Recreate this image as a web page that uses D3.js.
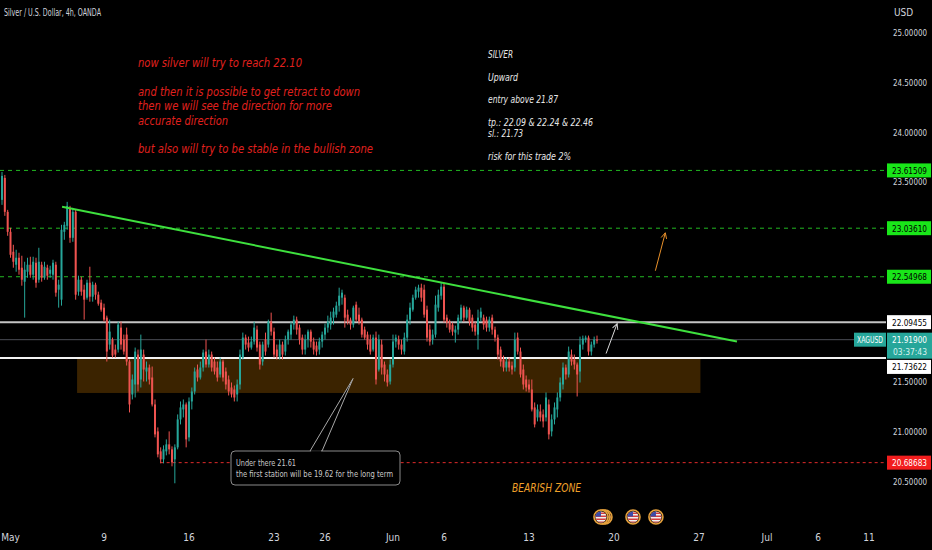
<!DOCTYPE html>
<html>
<head>
<meta charset="utf-8">
<script src="https://cdn.jsdelivr.net/npm/d3@7"></script>
<style>
html, body { margin: 0; padding: 0; background: #000; overflow: hidden; }
svg { display: block; }
text { font-family: "Liberation Sans Narrow", "DejaVu Sans Condensed", Roboto, sans-serif; }
</style>
</head>
<body>
<svg id="chart" width="932" height="550"></svg>
<script>
// 4h candles, [open, high, low, close], one per bar
const candles = [
  [23.32,23.60,23.27,23.56],[23.54,23.57,23.16,23.20],[23.20,23.22,22.96,23.00],[23.00,23.04,22.74,22.77],
  [22.80,22.87,22.64,22.70],[22.67,22.82,22.60,22.74],[22.74,22.79,22.57,22.62],[22.64,22.76,22.46,22.52],
  [22.50,22.70,22.14,22.62],[22.60,22.74,22.54,22.67],[22.67,22.75,22.54,22.57],[22.57,22.75,22.52,22.70],
  [22.69,22.74,22.44,22.49],[22.52,22.84,22.49,22.70],[22.67,22.70,22.50,22.54],[22.54,22.70,22.52,22.65],
  [22.64,22.67,22.52,22.56],[22.58,22.66,22.54,22.62],[22.57,22.72,22.52,22.69],[22.67,22.70,22.35,22.39],
  [22.42,22.52,22.24,22.47],[22.32,23.07,22.26,23.02],[23.00,23.10,22.92,23.07],[23.06,23.30,23.02,23.26],
  [23.24,23.26,22.89,22.94],[22.94,23.24,22.90,23.20],[23.20,23.22,22.32,22.37],[22.40,22.56,22.36,22.52],
  [22.52,22.55,22.36,22.40],[22.42,22.47,22.12,22.32],[22.34,22.52,22.32,22.49],[22.49,22.65,22.30,22.35],
  [22.35,22.50,22.30,22.47],[22.47,22.49,22.32,22.37],[22.37,22.40,22.26,22.28],[22.29,22.32,22.20,22.22],
  [22.24,22.28,22.10,22.12],[22.14,22.16,21.70,21.80],[21.87,22.12,21.82,22.00],[21.92,21.94,21.74,21.76],
  [21.82,21.87,21.74,21.77],[21.82,22.10,21.79,22.07],[22.04,22.10,21.82,21.87],[21.92,21.97,21.77,21.80],
  [21.97,22.04,21.66,21.70],[21.70,21.72,21.19,21.27],[21.37,21.57,21.32,21.52],[21.47,21.84,21.34,21.80],
  [21.77,21.82,21.40,21.47],[21.52,21.97,21.44,21.82],[21.77,21.82,21.50,21.62],[21.60,21.70,21.50,21.64],
  [21.64,21.67,21.47,21.52],[21.54,21.65,21.25,21.27],[21.27,21.32,20.94,20.97],[21.00,21.04,20.74,20.77],
  [20.80,20.84,20.68,20.72],[20.72,20.86,20.68,20.82],[20.80,20.92,20.76,20.87],[20.87,21.00,20.77,20.82],
  [20.82,20.85,20.65,20.69],[20.72,20.87,20.48,20.84],[20.84,21.17,20.82,21.12],[21.12,21.30,21.07,21.24],
  [21.22,21.32,21.14,21.27],[21.27,21.29,20.84,20.92],[20.94,21.34,20.90,21.30],[21.30,21.44,21.22,21.40],
  [21.40,21.64,21.37,21.60],[21.62,21.67,21.50,21.54],[21.54,21.70,21.52,21.64],[21.64,21.82,21.60,21.79],
  [21.80,21.92,21.64,21.67],[21.67,21.82,21.64,21.77],[21.77,21.80,21.60,21.64],[21.70,21.74,21.57,21.60],
  [21.64,21.70,21.50,21.54],[21.57,21.74,21.54,21.70],[21.70,21.72,21.50,21.54],[21.60,21.64,21.42,21.47],
  [21.52,21.56,21.36,21.40],[21.44,21.49,21.34,21.37],[21.42,21.46,21.30,21.34],[21.37,21.52,21.30,21.47],
  [21.47,21.82,21.42,21.77],[21.74,21.99,21.72,21.94],[21.94,21.97,21.82,21.87],[21.89,21.95,21.80,21.84],
  [21.84,21.95,21.82,21.90],[21.90,22.10,21.87,22.04],[22.02,22.06,21.80,21.84],[21.87,21.90,21.62,21.67],
  [21.70,21.90,21.66,21.87],[21.92,21.99,21.76,21.80],[21.87,22.12,21.84,22.10],[22.10,22.19,21.96,22.00],
  [22.00,22.04,21.74,21.77],[21.82,21.87,21.72,21.75],[21.75,21.92,21.72,21.87],[21.87,21.90,21.72,21.77],
  [21.80,21.96,21.76,21.92],[21.92,22.02,21.87,22.00],[21.97,22.10,21.92,22.07],[22.07,22.16,22.02,22.12],
  [22.12,22.15,21.97,22.02],[22.04,22.07,21.87,21.92],[21.94,21.97,21.77,21.82],[21.82,21.97,21.77,21.92],
  [21.92,22.02,21.84,22.00],[22.00,22.02,21.84,21.90],[21.90,21.94,21.77,21.82],[21.86,21.90,21.76,21.80],
  [21.82,21.94,21.77,21.90],[21.90,22.00,21.84,21.97],[21.97,22.08,21.92,22.04],[22.04,22.16,21.99,22.10],
  [22.07,22.20,22.02,22.14],[22.14,22.24,22.07,22.20],[22.17,22.30,22.14,22.26],[22.26,22.44,22.20,22.36],
  [22.34,22.42,22.27,22.39],[22.34,22.37,22.04,22.14],[22.17,22.22,22.07,22.10],[22.12,22.14,22.02,22.07],
  [22.07,22.26,22.04,22.24],[22.27,22.30,22.10,22.12],[22.17,22.24,22.07,22.10],[22.12,22.14,21.94,21.97],
  [22.02,22.05,21.92,21.94],[21.97,22.00,21.82,21.87],[21.92,21.97,21.77,21.80],[21.82,21.97,21.80,21.94],
  [21.94,22.00,21.47,21.52],[21.62,21.97,21.60,21.92],[21.87,21.92,21.57,21.64],[21.67,21.70,21.50,21.57],
  [21.57,21.62,21.45,21.49],[21.50,21.72,21.47,21.67],[21.67,21.97,21.64,21.90],[21.90,21.97,21.84,21.94],
  [21.92,21.96,21.82,21.87],[21.87,21.92,21.77,21.82],[21.80,21.99,21.77,21.94],[21.94,22.17,21.90,22.12],
  [22.12,22.29,22.07,22.24],[22.22,22.37,22.20,22.34],[22.34,22.45,22.32,22.42],[22.40,22.47,22.34,22.44],
  [22.44,22.48,22.30,22.34],[22.42,22.47,22.14,22.17],[22.22,22.26,21.90,21.94],[22.02,22.07,21.86,21.90],
  [21.92,22.02,21.87,21.97],[21.97,22.36,21.94,22.27],[22.24,22.42,22.20,22.37],[22.36,22.49,22.32,22.45],
  [22.45,22.49,22.09,22.12],[22.14,22.17,22.04,22.09],[22.10,22.12,21.99,22.02],[22.07,22.09,21.96,22.00],
  [21.99,22.06,21.89,22.02],[22.02,22.17,21.97,22.14],[22.12,22.27,22.09,22.24],[22.24,22.26,22.10,22.14],
  [22.14,22.25,22.12,22.22],[22.22,22.24,22.06,22.10],[22.14,22.17,22.00,22.04],[22.07,22.10,21.96,22.00],
  [21.97,22.22,21.82,22.14],[22.14,22.24,22.10,22.20],[22.14,22.17,22.02,22.07],[22.12,22.15,22.00,22.04],
  [22.04,22.15,22.00,22.12],[22.14,22.17,21.97,22.02],[22.02,22.05,21.90,21.94],[21.94,21.97,21.72,21.77],
  [21.82,21.85,21.65,21.70],[21.72,21.76,21.60,21.64],[21.64,21.74,21.60,21.70],[21.70,21.74,21.60,21.64],
  [21.66,21.70,21.57,21.62],[21.64,21.99,21.60,21.92],[21.94,21.99,21.77,21.80],[21.80,21.84,21.54,21.57],
  [21.62,21.67,21.42,21.47],[21.52,21.56,21.40,21.44],[21.47,21.52,21.39,21.42],[21.42,21.52,21.20,21.22],
  [21.24,21.29,21.04,21.07],[21.14,21.27,21.10,21.22],[21.20,21.27,21.10,21.14],[21.17,21.22,21.04,21.10],
  [21.14,21.39,21.10,21.34],[21.27,21.32,20.92,20.97],[21.00,21.17,20.95,21.12],[21.12,21.29,21.07,21.24],
  [21.22,21.39,21.14,21.34],[21.34,21.54,21.30,21.49],[21.47,21.69,21.42,21.64],[21.64,21.67,21.52,21.57],
  [21.57,21.85,21.54,21.80],[21.77,21.82,21.66,21.70],[21.72,21.77,21.62,21.67],[21.67,21.69,21.35,21.57],
  [21.60,21.95,21.49,21.87],[21.87,21.96,21.82,21.93],[21.92,21.96,21.89,21.94],[21.94,21.96,21.76,21.80],
  [21.80,21.90,21.76,21.87],[21.87,21.95,21.84,21.92],[21.92,21.96,21.88,21.919]
];

// time axis: bar index where each date label sits
const timeLabels = ["May", "9", "16", "23", "26", "Jun", "6", "13", "20", "27", "Jul", "6", "11"];
const timeBars   = [3, 36, 66, 96, 114, 138, 156, 186, 216, 246, 270, 288, 306];

const priceTicks = [25, 24.5, 24, 23.5, 23, 22.5, 22, 21.5, 21, 20.5];

const targetLevels = [23.61509, 23.03610, 22.54968];
const rangeLevels = [22.09455, 21.73622];
const stopLevel = 20.68683;
const lastPrice = 21.919;
const countdown = "03:37:43";

// demand zone [startBar, endBar, topPrice, bottomPrice]
const zone = [26.5, 246.5, 21.73, 21.385];
// falling trendline [bar, price]
const trendLine = [[21.2, 23.25], [259.4, 21.90]];
// arrows [bar, price] from -> to
const whiteArrow = [[213.2, 21.78], [217.1, 22.08]];
const orangeArrow = [[230.6, 22.61], [234.1, 22.99]];
// callout pointer tip [bar, price]
const calloutTip = [123.9, 21.53];
// economic event markers (bar index)
const eventBars = [211.4, 222.7, 230.8];

const redNote = [
  "now silver will try to reach 22.10",
  "",
  "and then it is possible to get retract to down",
  "then we will see the direction for more",
  "accurate direction",
  "",
  "but also will try to be stable in the bullish zone"
];
const redNoteWidths = [164, 0, 222, 194, 90, 0, 235];

const planNote = ["SILVER", "", "Upward", "", "entry above 21.87", "", "tp.: 22.09 & 22.24 & 22.46", "sl.: 21.73", "", "risk for this trade 2%"];
const planNoteWidths = [25, 0, 30, 0, 70, 0, 105, 35, 0, 83];

const W = 932, H = 550, axisX = 886;
const svg = d3.select("#chart");

const x = d3.scaleLinear().domain([0, 306]).range([2, 869]);
const y = d3.scaleLinear().domain([20.5, 25]).range([481.3, 32.2]);

svg.append("rect").attr("width", W).attr("height", H).attr("fill", "#000");

const defs = svg.append("defs");
function arrowMarker(id, color) {
  defs.append("marker").attr("id", id).attr("viewBox", "0 0 10 10")
    .attr("refX", 9).attr("refY", 5).attr("markerWidth", 7).attr("markerHeight", 7)
    .attr("orient", "auto")
    .append("path").attr("d", "M1,1 L9,5 L1,9").attr("fill", "none")
    .attr("stroke", color).attr("stroke-width", 1.3);
}
arrowMarker("arrW", "#d8d8d8");
arrowMarker("arrO", "#e8902a");

const plot = svg.append("g");

// zone
plot.append("rect")
  .attr("x", x(zone[0])).attr("width", x(zone[1]) - x(zone[0]))
  .attr("y", y(zone[2])).attr("height", y(zone[3]) - y(zone[2]))
  .attr("fill", "#ff9800").attr("fill-opacity", 0.23);

// target dashed lines
plot.selectAll(".tgt").data(targetLevels).join("line")
  .attr("x1", 0).attr("x2", axisX).attr("y1", d => y(d)).attr("y2", d => y(d))
  .attr("stroke", "#22b922").attr("stroke-width", 1).attr("stroke-dasharray", "4,4");

// stop dashed line
plot.append("line").attr("x1", x(56)).attr("x2", axisX)
  .attr("y1", y(stopLevel)).attr("y2", y(stopLevel))
  .attr("stroke", "#e02a2a").attr("stroke-width", 1).attr("stroke-dasharray", "3,3");

// last price line
plot.append("line").attr("x1", 0).attr("x2", axisX)
  .attr("y1", y(lastPrice)).attr("y2", y(lastPrice))
  .attr("stroke", "#4a4d55").attr("stroke-width", 1);

// range lines
plot.selectAll(".rng").data(rangeLevels).join("line")
  .attr("x1", 0).attr("x2", axisX).attr("y1", d => y(d)).attr("y2", d => y(d))
  .attr("stroke", (d, i) => i === 0 ? "#c4c4c4" : "#f2f2f2").attr("stroke-width", 2);

// candles
const c = plot.append("g").selectAll("g").data(candles).join("g");
const col = d => d[3] >= d[0] ? "#26a69a" : "#ef5350";
c.append("line")
  .attr("x1", (d, i) => x(i)).attr("x2", (d, i) => x(i))
  .attr("y1", d => y(d[1])).attr("y2", d => y(d[2]))
  .attr("stroke", col).attr("stroke-width", 1);
c.append("rect")
  .attr("x", (d, i) => x(i) - 1).attr("width", 2)
  .attr("y", d => y(Math.max(d[0], d[3])))
  .attr("height", d => Math.max(1, Math.abs(y(d[0]) - y(d[3]))))
  .attr("fill", col);

// trendline
plot.append("line")
  .attr("x1", x(trendLine[0][0])).attr("y1", y(trendLine[0][1]))
  .attr("x2", x(trendLine[1][0])).attr("y2", y(trendLine[1][1]))
  .attr("stroke", "#3ee03e").attr("stroke-width", 2);

// arrows
plot.append("line")
  .attr("x1", x(whiteArrow[0][0])).attr("y1", y(whiteArrow[0][1]))
  .attr("x2", x(whiteArrow[1][0])).attr("y2", y(whiteArrow[1][1]))
  .attr("stroke", "#d8d8d8").attr("stroke-width", 1).attr("marker-end", "url(#arrW)");
plot.append("line")
  .attr("x1", x(orangeArrow[0][0])).attr("y1", y(orangeArrow[0][1]))
  .attr("x2", x(orangeArrow[1][0])).attr("y2", y(orangeArrow[1][1]))
  .attr("stroke", "#e8902a").attr("stroke-width", 1).attr("marker-end", "url(#arrO)");

// callout
const tipX = x(calloutTip[0]), tipY = y(calloutTip[1]);
plot.append("path")
  .attr("d", `M${tipX},${tipY} L${tipX - 43},451 L${tipX - 31},451 Z`)
  .attr("fill", "#000").attr("stroke", "#a8a8a8").attr("stroke-width", 1);
plot.append("rect").attr("x", 231).attr("y", 451).attr("width", 169).attr("height", 34)
  .attr("rx", 4).attr("fill", "#000").attr("stroke", "#8a8a8a").attr("stroke-width", 1);
plot.append("line").attr("x1", tipX - 42).attr("x2", tipX - 32).attr("y1", 451).attr("y2", 451)
  .attr("stroke", "#000").attr("stroke-width", 1.5);
plot.append("text").attr("x", 236).attr("y", 466).attr("fill", "#c8c8c8")
  .attr("font-size", 9.5).attr("textLength", 60).attr("lengthAdjust", "spacingAndGlyphs")
  .text("Under there 21.61");
plot.append("text").attr("x", 236).attr("y", 477).attr("fill", "#c8c8c8")
  .attr("font-size", 9.5).attr("textLength", 157).attr("lengthAdjust", "spacingAndGlyphs")
  .text("the first station will be 19.62 for the long term");

// BEARISH ZONE
plot.append("text").attr("x", 512).attr("y", 492).attr("fill", "#f0a02a")
  .attr("font-size", 12.5).attr("font-style", "italic")
  .attr("textLength", 69).attr("lengthAdjust", "spacingAndGlyphs")
  .text("BEARISH ZONE");

// notes
plot.append("g").selectAll("text").data(redNote).join("text")
  .attr("x", 138).attr("y", (d, i) => 67 + i * 14.4)
  .attr("fill", "#e0201e").attr("font-size", 12).attr("font-style", "italic")
  .attr("textLength", (d, i) => redNoteWidths[i] || null)
  .attr("lengthAdjust", "spacingAndGlyphs")
  .text(d => d);

plot.append("g").selectAll("text").data(planNote).join("text")
  .attr("x", 488).attr("y", (d, i) => 58 + i * 11.3)
  .attr("fill", "#e8e8e8").attr("font-size", 10.5).attr("font-style", "italic")
  .attr("textLength", (d, i) => planNoteWidths[i] || null)
  .attr("lengthAdjust", "spacingAndGlyphs")
  .text(d => d);

// event markers
const ev = plot.append("g").selectAll("g").data(eventBars).join("g")
  .attr("transform", d => `translate(${x(d)},517)`);
defs.append("clipPath").attr("id", "flagClip").append("circle").attr("r", 5.5);
function flag(g, dx) {
  const f = g.append("g").attr("transform", `translate(${dx},0)`);
  f.append("circle").attr("r", 7).attr("fill", "#2a1a08").attr("stroke", "#e8a33d").attr("stroke-width", 1.6);
  const inner = f.append("g").attr("clip-path", "url(#flagClip)");
  inner.append("rect").attr("x", -6).attr("y", -6).attr("width", 12).attr("height", 12).attr("fill", "#f0f0f0");
  [-4.5, -1.5, 1.5, 4.5].forEach(s => inner.append("rect").attr("x", -6).attr("y", s).attr("width", 12).attr("height", 1.5).attr("fill", "#d23c3c"));
  inner.append("rect").attr("x", -6).attr("y", -6).attr("width", 6).attr("height", 5.5).attr("fill", "#3b4aa8");
}
ev.each(function (d, i) {
  const g = d3.select(this);
  if (i === 0) { flag(g, 4); flag(g, 2); }
  flag(g, 0);
});

// price axis; ticks hidden behind a level label are skipped, as on the platform
const labelYs = [...targetLevels, ...rangeLevels, stopLevel, lastPrice].map(y);
const visibleTicks = priceTicks.filter(t => labelYs.every(ly => Math.abs(y(t) - ly) > 11));
const ax = svg.append("g");
ax.selectAll("text").data(visibleTicks).join("text")
  .attr("x", 927).attr("y", d => y(d) + 3.5).attr("text-anchor", "end")
  .attr("fill", "#d1d4dc").attr("font-size", 9)
  .attr("textLength", 34).attr("lengthAdjust", "spacingAndGlyphs")
  .text(d => d3.format(".5f")(d));
ax.append("text").attr("x", 894).attr("y", 16).attr("fill", "#d1d4dc").attr("font-size", 10).text("USD");

function priceLabel(p, cy, bg, fg) {
  ax.append("rect").attr("x", axisX + 1).attr("y", cy - 7).attr("width", 44).attr("height", 14).attr("fill", bg);
  ax.append("text").attr("x", 927).attr("y", cy + 3.5).attr("text-anchor", "end")
    .attr("fill", fg).attr("font-size", 9)
    .attr("textLength", 35).attr("lengthAdjust", "spacingAndGlyphs")
    .text(d3.format(".5f")(p));
}
targetLevels.forEach(p => priceLabel(p, y(p), "#19e619", "#000"));
priceLabel(rangeLevels[0], y(rangeLevels[0]), "#ffffff", "#000");
priceLabel(rangeLevels[1], y(rangeLevels[1]) + 9, "#ffffff", "#000");
priceLabel(stopLevel, y(stopLevel), "#f21d1d", "#fff");

// last price label
const ly = y(lastPrice);
ax.append("rect").attr("x", axisX + 1).attr("y", ly - 7).attr("width", 45).attr("height", 26).attr("fill", "#26a69a");
ax.append("text").attr("x", 927).attr("y", ly + 3.5).attr("text-anchor", "end")
  .attr("fill", "#fff").attr("font-size", 9)
  .attr("textLength", 35).attr("lengthAdjust", "spacingAndGlyphs").text(d3.format(".5f")(lastPrice));
ax.append("text").attr("x", 927).attr("y", ly + 15).attr("text-anchor", "end")
  .attr("fill", "#d9f2ef").attr("font-size", 8.5)
  .attr("textLength", 34).attr("lengthAdjust", "spacingAndGlyphs").text(countdown);
ax.append("rect").attr("x", 854).attr("y", ly - 7).attr("width", 32).attr("height", 14).attr("fill", "#26a69a");
ax.append("text").attr("x", 870).attr("y", ly + 3.5).attr("text-anchor", "middle").attr("fill", "#fff")
  .attr("font-size", 8.5).attr("textLength", 26).attr("lengthAdjust", "spacingAndGlyphs").text("XAGUSD");

// time axis
svg.append("g").selectAll("text").data(timeLabels).join("text")
  .attr("x", (d, i) => x(timeBars[i])).attr("y", 541)
  .attr("text-anchor", "middle").attr("fill", "#d1d4dc").attr("font-size", 10)
  .text(d => d);

// header
svg.append("text").attr("x", 4).attr("y", 16).attr("fill", "#d1d4dc").attr("font-size", 10)
  .attr("textLength", 97).attr("lengthAdjust", "spacingAndGlyphs")
  .text("Silver / U.S. Dollar, 4h, OANDA");
</script>
</body>
</html>
